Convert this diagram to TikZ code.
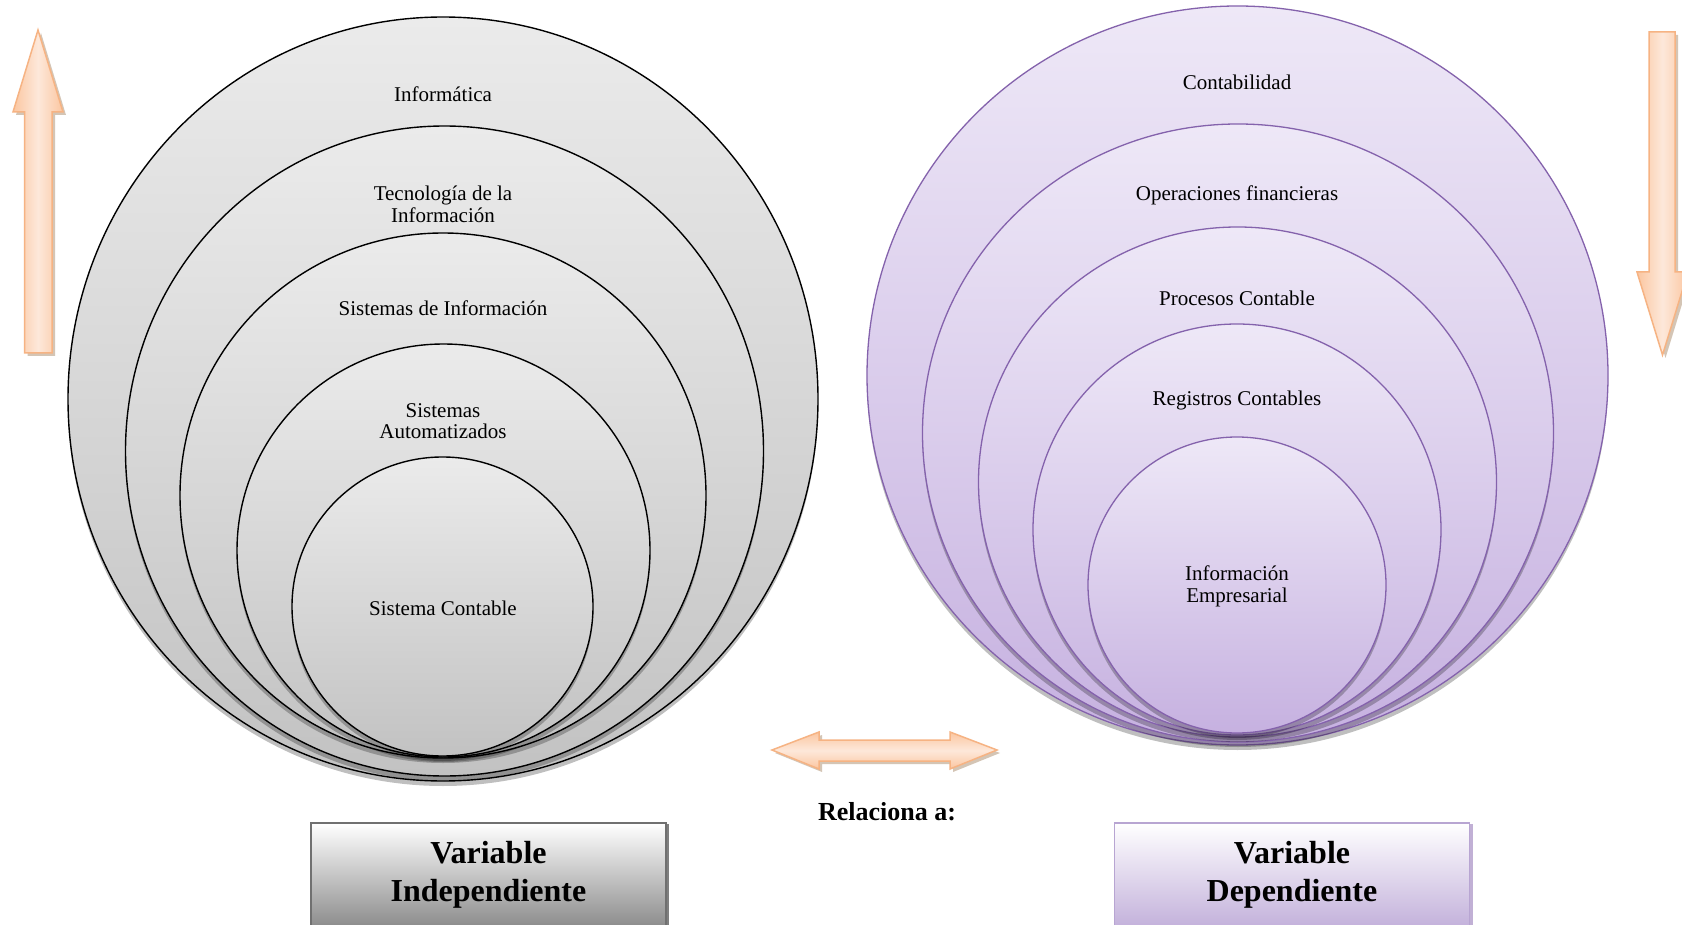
\documentclass[tikz,border=0pt]{standalone}
\usepackage{fontspec}
\setmainfont{Liberation Serif}
\usetikzlibrary{shadows}
\definecolor{gTop}{HTML}{EBEBEB}
\definecolor{gBot}{HTML}{C2C2C2}
\definecolor{pTop}{HTML}{EEE8F7}
\definecolor{pBot}{HTML}{C6B1E0}
\definecolor{pLine}{HTML}{8462AC}
\definecolor{aEdge}{HTML}{FBC6A0}
\definecolor{aMid}{HTML}{FDE8DA}
\definecolor{aLine}{HTML}{F6B383}
\definecolor{bxLine}{HTML}{707070}
\definecolor{bxBot}{HTML}{8C8C8C}
\definecolor{pbxLine}{HTML}{B8A5D2}
\definecolor{pbxBot}{HTML}{C3B1DB}
\tikzset{
  gcirc/.style={draw=black, line width=1.4pt, top color=gTop, bottom color=gBot,
    drop shadow={shadow xshift=0pt, shadow yshift=-5pt, opacity=0.25, fill=black}},
  pcirc/.style={draw=pLine, line width=1.3pt, top color=pTop, bottom color=pBot,
    drop shadow={shadow xshift=0pt, shadow yshift=-5pt, opacity=0.25, fill=black}},
  lbl/.style={font=\fontsize{21}{21.5}\selectfont, align=center, inner sep=0pt},
  varr/.style={draw=aLine, line width=1.5pt, left color=aEdge, right color=aEdge, middle color=aMid,
    drop shadow={shadow xshift=3pt, shadow yshift=-3pt, opacity=0.35, fill=brown!70!black}},
  harr/.style={draw=aLine, line width=1.5pt, top color=aEdge, bottom color=aEdge, middle color=aMid,
    drop shadow={shadow xshift=3pt, shadow yshift=-3pt, opacity=0.35, fill=brown!70!black}},
  gbox/.style={draw=bxLine, line width=1.6pt, top color=white, bottom color=bxBot,
    minimum width=355pt, minimum height=104pt, align=center, inner sep=0pt,
    font=\fontsize{32}{37.5}\selectfont\bfseries,
    drop shadow={shadow xshift=3pt, shadow yshift=-1pt, opacity=0.5, fill=black}},
  pbox/.style={draw=pbxLine, line width=1.6pt, top color=white, bottom color=pbxBot,
    minimum width=355pt, minimum height=104pt, align=center, inner sep=0pt,
    font=\fontsize{32}{37.5}\selectfont\bfseries,
    drop shadow={shadow xshift=3pt, shadow yshift=-1pt, opacity=0.5, fill=pLine}}
}
\begin{document}
\begin{tikzpicture}[x=1pt,y=-1pt]
\clip (0,0) rectangle (1682,925);
\fill[white] (0,0) rectangle (1682,925);

% left nested circles
\path[gcirc] (443,399) ellipse [x radius=375pt, y radius=382pt];
\path[gcirc] (444.5,451) ellipse [x radius=319pt, y radius=325pt];
\path[gcirc] (443,495.5) ellipse [x radius=263pt, y radius=262.5pt];
\path[gcirc] (443.5,550.5) ellipse [x radius=206.5pt, y radius=206.5pt];
\path[gcirc] (442.5,606.5) ellipse [x radius=150.5pt, y radius=149.5pt];

\node[lbl] (l1) at (443,94.5) {Informática};
\node[lbl] (l2) at (443,204.5) {Tecnología de la\\Información};
\node[lbl] (l3) at (443,308.5) {Sistemas de Información};
\node[lbl] (l4) at (443,421) {Sistemas\\Automatizados};
\node[lbl] (l5) at (443,608.5) {Sistema Contable};

% right nested circles
\path[pcirc] (1237.5,375.5) ellipse [x radius=370.5pt, y radius=369.5pt];
\path[pcirc] (1238,433) ellipse [x radius=315.5pt, y radius=309pt];
\path[pcirc] (1237.5,482) ellipse [x radius=259pt, y radius=255pt];
\path[pcirc] (1237,529.5) ellipse [x radius=204pt, y radius=205.5pt];
\path[pcirc] (1237,585) ellipse [x radius=149pt, y radius=148pt];

\node[lbl] (r1) at (1237,82) {Contabilidad};
\node[lbl] (r2) at (1237,195.5) {Operaciones financieras};
\node[lbl] (r3) at (1237,298.5) {Procesos Contable};
\node[lbl] (r4) at (1237,400.5) {Registros Contables};
\node[lbl] (r5) at (1237,586.5) {Información\\Empresarial};

% up arrow (left)
\path[varr] (38,30) -- (63,112) -- (52,112) -- (52,353) -- (24.5,353) -- (24.5,112) -- (13,112) -- cycle;
% down arrow (right)
\path[varr] (1649,32) -- (1675,32) -- (1675,272) -- (1688,272) -- (1662.5,355) -- (1637,272) -- (1649,272) -- cycle;
% double arrow
\path[harr] (772,750) -- (819,732) -- (819,740) -- (950,740) -- (950,732) -- (997,750)
  -- (950,769) -- (950,761) -- (819,761) -- (819,769) -- cycle;

\node[font=\fontsize{26}{30}\selectfont\bfseries, inner sep=0pt] (rel) at (887,812) {Relaciona a:};

% boxes
\node[gbox] (vi) at (488.5,875) {Variable\\Independiente};
\node[pbox] (vd) at (1292,875) {Variable\\Dependiente};
\end{tikzpicture}
\end{document}
